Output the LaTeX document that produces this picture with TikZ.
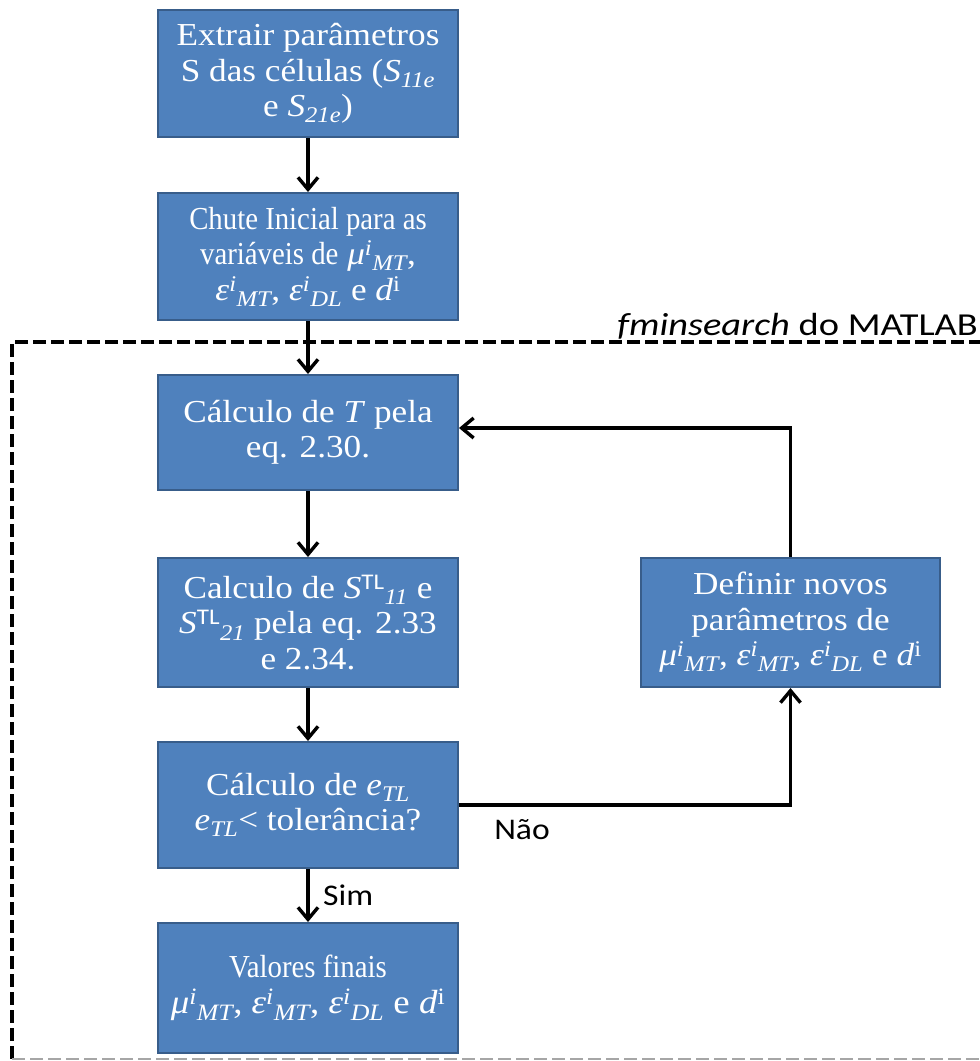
\documentclass[tikz,border=0pt]{standalone}
\usepackage{fontspec}
\setmainfont{Liberation Serif}[FakeStretch=1.1]
\newfontfamily\condserif{Liberation Serif}[FakeStretch=0.9]
\newfontfamily\calib{Carlito}[FakeStretch=1.12]
\newfontfamily\calibwide{Carlito}[FakeStretch=1.2]
\usetikzlibrary{arrows.meta}
\definecolor{boxblue}{HTML}{4F81BD}
\definecolor{boxedge}{HTML}{385D8A}
\newcommand\gr[1]{\textit{#1}}
\newcommand\supsubi[2]{\textsuperscript{\itshape #1}\textsubscript{\itshape #2}}
\newcommand\sbi[1]{\textsubscript{\itshape #1}}
\tikzset{
  flowbox/.style={rectangle, fill=boxblue, draw=boxedge, line width=2pt,
    text=white, align=center, inner sep=2pt,
    font=\fontsize{32}{35.5}\selectfont},
  flowarrow/.style={line width=3.6pt, -{Straight Barb[length=12pt,width=20pt,line width=3.4pt]}},
  frame/.style={line width=3.8pt, dash pattern=on 13pt off 5pt},
  lbl/.style={font=\calib\fontsize{30}{32}\selectfont, text=black}
}
\begin{document}
\begin{tikzpicture}[x=1pt,y=-1pt]
\useasboundingbox (0,0) rectangle (980,1061);
\begin{scope}
\clip (0,0) rectangle (980,1061);
\draw[frame] (1000,342) -- (12,342) -- (12,1059);
\draw[frame, gray!70, line width=2.2pt] (12,1059) -- (1000,1059);
\end{scope}
\node[font=\calibwide\fontsize{32}{34}\selectfont, anchor=base east, inner sep=0pt] (fm) at (978,335) {\textit{fminsearch} do MATLAB};

\node[flowbox, minimum width=300pt, minimum height=127pt] (b1) at (308,73.5)
  {Extrair parâmetros\\S das células (\textit{S}\sbi{11e}\\e \textit{S}\sbi{21e})};
\node[flowbox, minimum width=300pt, minimum height=127pt] (b2) at (308,256.5)
  {{\condserif Chute Inicial para as}\\{\condserif variáveis de} \gr{μ}\supsubi{i}{MT},\\\gr{ε}\supsubi{i}{MT}, \gr{ε}\supsubi{i}{DL} e \textit{d}\textsuperscript{i}};
\node[flowbox, minimum width=300pt, minimum height=115pt] (b3) at (308,432.5)
  {Cálculo de \textit{T} pela\\eq. 2.30.};
\node[flowbox, minimum width=300pt, minimum height=129pt] (b4) at (308,622.5)
  {Calculo de \textit{S}\textsuperscript{\calib TL}\sbi{11} e\\\textit{S}\textsuperscript{\calib TL}\sbi{21} pela eq. 2.33\\e 2.34.};
\node[flowbox, minimum width=299pt, minimum height=129pt] (b5) at (790.5,622.5)
  {Definir novos\\parâmetros de\\\gr{μ}\supsubi{i}{MT}, \gr{ε}\supsubi{i}{MT}, \gr{ε}\supsubi{i}{DL} e \textit{d}\textsuperscript{i}};
\node[flowbox, minimum width=300pt, minimum height=126pt] (b6) at (308,805)
  {Cálculo de \textit{e}\sbi{TL}\\\textit{e}\sbi{TL}< tolerância?};
\node[flowbox, minimum width=300pt, minimum height=130pt] (b7) at (308,988)
  {{\condserif Valores finais}\\{\fontsize{33.5}{36}\selectfont\gr{μ}\supsubi{i}{MT}, \gr{ε}\supsubi{i}{MT}, \gr{ε}\supsubi{i}{DL} e \textit{d}\textsuperscript{i}}};

\draw[flowarrow] (b1.south) -- (b2.north);
\draw[flowarrow] (b2.south) -- (b3.north);
\draw[flowarrow] (b3.south) -- (b4.north);
\draw[flowarrow] (b4.south) -- (b6.north);
\draw[flowarrow] (b6.south) -- (b7.north) node[lbl, midway, right=10pt] (sim) {Sim};
\draw[flowarrow] (b6.east) -| (b5.south);
\node[lbl] (nao) at (522,830) {Não};
\draw[flowarrow] (b5.north) |- ([yshift=4.5pt]b3.east);
\end{tikzpicture}
\end{document}
